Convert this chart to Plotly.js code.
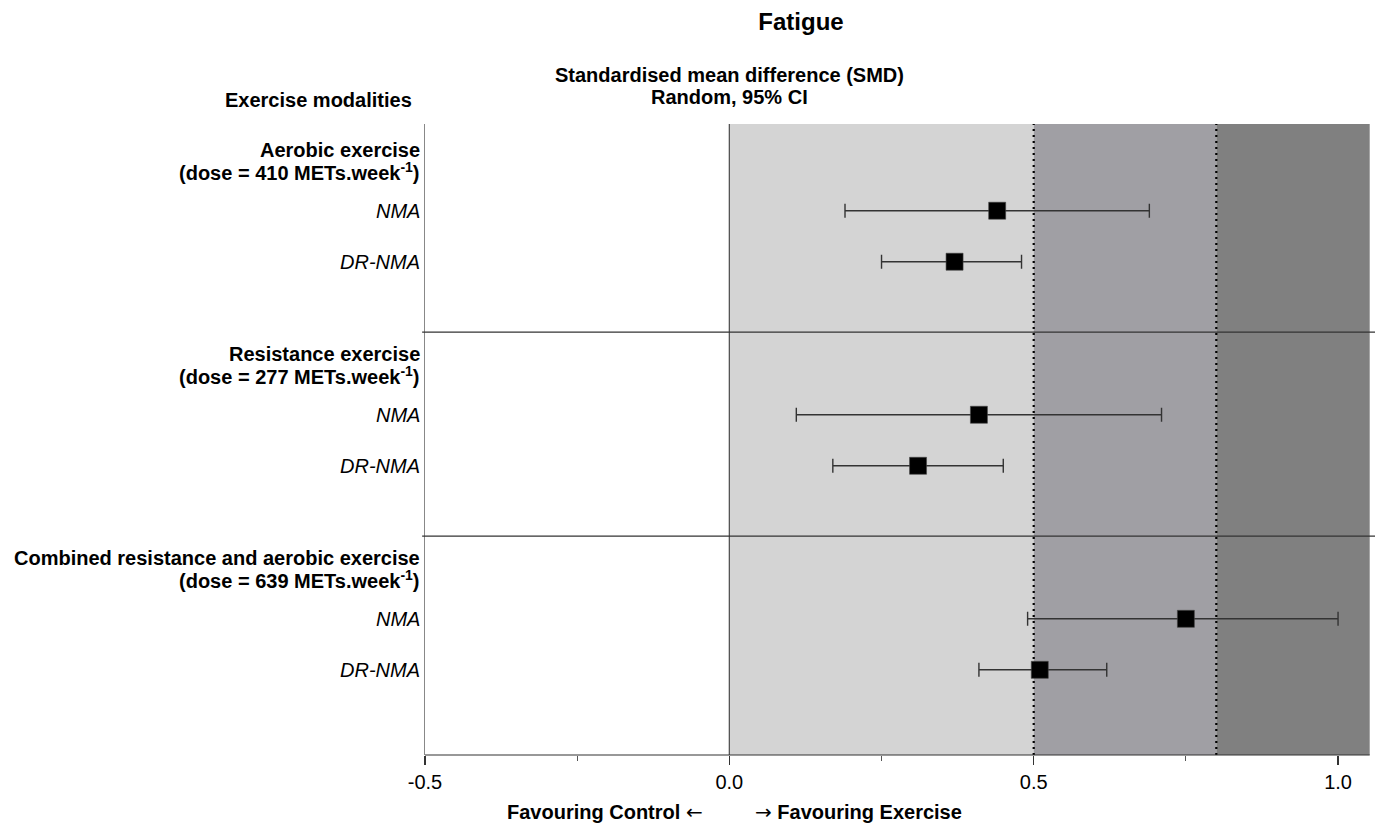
<!DOCTYPE html>
<html>
<head>
<meta charset="utf-8">
<script src="https://cdn.plot.ly/plotly-3.0.1.min.js"></script>
<style>html,body{margin:0;padding:0;background:#fff;}#chart{width:1375px;height:823px;}</style>
</head>
<body>
<div id="chart"></div>
<script>
// ---- data ----
const groups = ['Aerobic exercise', 'Resistance exercise', 'Combined resistance and aerobic exercise'];
const doses = [410, 277, 639];
const methods = ['NMA', 'DR-NMA'];
const estimates = [0.44, 0.37, 0.41, 0.31, 0.75, 0.51];
const lowerCI = [0.19, 0.25, 0.11, 0.17, 0.49, 0.41];
const upperCI = [0.69, 0.48, 0.71, 0.45, 1.00, 0.62];
const effectBands = [0, 0.5, 0.8, 1.052];
const bandColors = ['#d4d4d4', '#a09fa4', '#808080'];
const tickVals = [-0.5, 0, 0.5, 1.0];
const tickText = ['-0.5', '0.0', '0.5', '1.0'];
const minorTicks = [-0.25, 0.25, 0.75];

// ---- layout helpers (row positions in y units) ----
const GROUP_SPAN = 4;
const rowOffset = {NMA: 1.7, 'DR-NMA': 2.7};
const headOffsets = [0.5, 0.93];
const yMax = 12.37;
const FONT = '"Liberation Sans", Arial, Helvetica, sans-serif';

const ys = [], xs = [], ep = [], em = [];
let k = 0;
groups.forEach((g, gi) => {
  methods.forEach(m => {
    ys.push(gi * GROUP_SPAN + rowOffset[m]);
    xs.push(estimates[k]);
    ep.push(upperCI[k] - estimates[k]);
    em.push(estimates[k] - lowerCI[k]);
    k++;
  });
});

const trace = {
  type: 'scatter', mode: 'markers', x: xs, y: ys,
  marker: {symbol: 'square', size: 17, color: '#000', line: {width: 0.6, color: '#444'}},
  error_x: {type: 'data', symmetric: false, array: ep, arrayminus: em, color: '#333', thickness: 1.4, width: 7},
  hoverinfo: 'skip', showlegend: false, cliponaxis: false
};

const shapes = [];
for (let i = 0; i < bandColors.length; i++) {
  shapes.push({type: 'rect', xref: 'x', yref: 'paper', x0: effectBands[i], x1: effectBands[i + 1], y0: 0, y1: 1,
    fillcolor: bandColors[i], line: {width: 0}, layer: 'below'});
}
// zero line
shapes.push({type: 'line', xref: 'x', yref: 'paper', x0: 0, x1: 0, y0: 0, y1: 1, line: {color: '#555', width: 1.3}, layer: 'below'});
// dotted threshold lines
[0.5, 0.8].forEach(v => shapes.push({type: 'line', xref: 'x', yref: 'paper', x0: v, x1: v, y0: 0, y1: 1,
  line: {color: '#000', width: 2.2, dash: '2px,4px'}, layer: 'below'}));
// group separators
for (let gi = 1; gi < groups.length; gi++) {
  const yy = gi * GROUP_SPAN + 0.08;
  shapes.push({type: 'line', xref: 'paper', yref: 'y', x0: -0.003, x1: 1, y0: yy, y1: yy, line: {color: '#333', width: 1.2}});
}
// bottom axis line
shapes.push({type: 'line', xref: 'x', yref: 'paper', x0: -0.5, x1: effectBands[effectBands.length - 1], y0: 0, y1: 0, line: {color: '#333', width: 1.2}});

const annotations = [];
groups.forEach((g, gi) => {
  const lines = ['<b>' + g + '</b>', '<b>(dose = ' + doses[gi] + ' METs.week<sup>-1</sup>)</b>'];
  lines.forEach((t, li) => annotations.push({xref: 'paper', yref: 'y', x: 0, y: gi * GROUP_SPAN + headOffsets[li],
    text: t, showarrow: false, xanchor: 'right', yanchor: 'middle', xshift: -3, font: {size: 20, color: '#000', family: FONT}}));
  methods.forEach(m => annotations.push({xref: 'paper', yref: 'y', x: 0, y: gi * GROUP_SPAN + rowOffset[m],
    text: '<i>' + m + '</i>', showarrow: false, xanchor: 'right', yanchor: 'middle', xshift: -3,
    font: {size: 20, color: '#000', family: FONT}}));
});
annotations.push({xref: 'x', yref: 'paper', x: 0, y: 1, yshift: 49, text: '<b>Standardised mean difference (SMD)</b>',
  showarrow: false, xanchor: 'center', yanchor: 'middle', font: {size: 20, color: '#000', family: FONT}});
annotations.push({xref: 'x', yref: 'paper', x: 0, y: 1, yshift: 27, text: '<b>Random, 95% CI</b>',
  showarrow: false, xanchor: 'center', yanchor: 'middle', font: {size: 20, color: '#000', family: FONT}});
annotations.push({xref: 'paper', yref: 'paper', x: 0, y: 1, xshift: -11, yshift: 24, text: '<b>Exercise modalities</b>',
  showarrow: false, xanchor: 'right', yanchor: 'middle', font: {size: 20, color: '#000', family: FONT}});
annotations.push({xref: 'x', yref: 'paper', x: 0, y: 0, xshift: -24, yshift: -57,
  text: '<b>Favouring Control <span style="font-family:\'DejaVu Sans\';font-weight:normal">\u2190</span></b>',
  showarrow: false, xanchor: 'right', yanchor: 'middle', font: {size: 20, color: '#000', family: FONT}});
annotations.push({xref: 'x', yref: 'paper', x: 0, y: 0, xshift: 24, yshift: -57,
  text: '<b><span style="font-family:\'DejaVu Sans\';font-weight:normal">\u2192</span> Favouring Exercise</b>',
  showarrow: false, xanchor: 'left', yanchor: 'middle', font: {size: 20, color: '#000', family: FONT}});

const layout = {
  width: 1375, height: 823,
  margin: {l: 425, r: 0, t: 124, b: 68},
  paper_bgcolor: '#fff', plot_bgcolor: '#fff',
  font: {family: FONT, color: '#000'},
  title: {text: '<b>Fatigue</b>', x: 801 / 1375, xanchor: 'center', xref: 'container', y: 1 - 22 / 823, yanchor: 'middle',
    font: {size: 24, color: '#000', family: FONT}},
  xaxis: {range: [-0.5, 1.0607], tickvals: tickVals, ticktext: tickText, ticks: 'outside', ticklen: 9, tickwidth: 1.2,
    tickcolor: '#333', showgrid: false, zeroline: false, showline: false, tickfont: {size: 20, color: '#000', family: FONT},
    minor: {tickvals: minorTicks, ticks: 'outside', ticklen: 5, tickwidth: 1, tickcolor: '#555', showgrid: false},
    fixedrange: true},
  yaxis: {range: [yMax, 0], showticklabels: false, showgrid: false, zeroline: false, ticks: '',
    showline: true, linecolor: '#888', linewidth: 1.5, fixedrange: true},
  shapes: shapes, annotations: annotations, showlegend: false
};

Plotly.newPlot('chart', [trace], layout, {staticPlot: true, displayModeBar: false});
</script>
</body>
</html>
